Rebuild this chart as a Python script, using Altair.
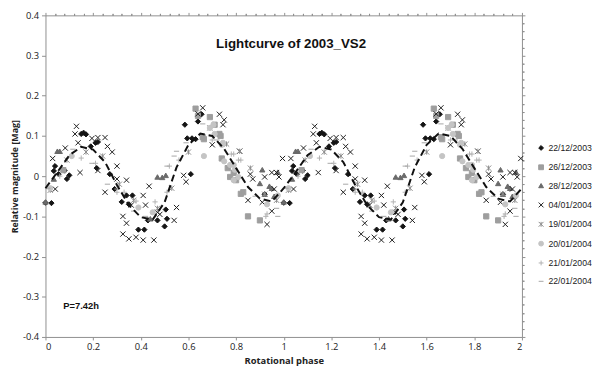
import altair as alt
import pandas as pd

# ---------------- data (phase 0-1, plotted twice as in the original) ----------------
series_names = ["22/12/2003", "26/12/2003", "28/12/2003", "04/01/2004",
                "19/01/2004", "20/01/2004", "21/01/2004", "22/01/2004"]

s1_phase = [0.00, 0.025, 0.035, 0.04, 0.055, 0.08, 0.09, 0.10, 0.15, 0.16, 0.17, 0.19, 0.21, 0.22, 0.215,
            0.27, 0.29, 0.32, 0.34, 0.35, 0.365, 0.39, 0.415, 0.43, 0.47, 0.50, 0.505, 0.51,
            0.585, 0.595, 0.61, 0.615, 0.63, 0.64, 0.655, 0.92]
s1_mag = [-0.066, -0.067, 0.013, 0.025, 0.005, 0.014, -0.007, 0.002, 0.105, 0.108, 0.104, 0.074, 0.083, 0.085, 0.02,
          0.005, -0.032, -0.064, -0.048, -0.070, -0.048, -0.133, -0.133, -0.110, -0.110, -0.125, -0.083, -0.106,
          0.128, 0.094, 0.005, 0.094, 0.092, 0.136, 0.154, -0.045]

s2_phase = [0.075, 0.63, 0.64, 0.66, 0.665, 0.69, 0.71, 0.73, 0.735, 0.74, 0.765, 0.775, 0.79, 0.80,
            0.82, 0.83, 0.85, 0.90]
s2_mag = [0.015, 0.168, 0.150, 0.097, 0.092, 0.147, 0.128, 0.105, 0.100, 0.044, 0.020, -0.002, 0.008, -0.010,
          -0.044, -0.040, -0.100, -0.110]

s3_phase = [0.0, 0.035, 0.05, 0.06, 0.44, 0.47, 0.49, 0.505, 0.90, 0.91, 0.92, 0.94, 0.95, 0.96, 0.975]
s3_mag = [-0.064, -0.007, 0.062, 0.062, -0.106, -0.002, -0.003, 0.002, -0.018, 0.016, -0.045, -0.025, -0.030,
          -0.050, 0.010]

s4_phase = [0.03, 0.041, 0.083, 0.124, 0.13, 0.137, 0.145, 0.195, 0.22, 0.25, 0.22, 0.26, 0.28, 0.30, 0.30,
            0.34, 0.25, 0.36, 0.325, 0.34, 0.325, 0.35, 0.38, 0.41, 0.455, 0.41, 0.435, 0.42, 0.47, 0.48,
            0.55, 0.54, 0.58, 0.59, 0.64, 0.66, 0.73, 0.75, 0.745, 0.70, 0.815, 0.86, 0.87, 0.85, 0.92,
            0.95, 0.97, 0.98, 0.995, 0.96, 0.93, 0.95, 0.91]
s4_mag = [0.044, -0.032, 0.070, 0.105, 0.124, 0.083, 0.009, 0.094, 0.096, 0.096, 0.014, 0.074, 0.060, 0.025, -0.007,
          -0.010, -0.040, -0.072, -0.100, -0.117, -0.144, -0.156, -0.152, -0.159, -0.159, -0.048, -0.025, -0.072,
          -0.090, -0.095, -0.078, -0.110, 0.002, -0.014, 0.155, 0.170, 0.154, 0.140, 0.128, 0.078, 0.062, 0.005,
          -0.007, -0.060, -0.002, 0.009, 0.009, -0.002, 0.044, -0.032, -0.120, -0.087, -0.065]

s5_phase = [0.02, 0.09, 0.17, 0.24, 0.31, 0.37, 0.47, 0.53, 0.60, 0.69, 0.76, 0.815, 0.86, 0.92, 0.97]
s5_mag = [-0.035, 0.040, 0.060, 0.050, -0.020, -0.060, -0.080, -0.030, 0.060, 0.120, 0.080, 0.062, 0.020,
          -0.045, -0.060]

s6_phase = [0.02, 0.11, 0.39, 0.45, 0.665, 0.69, 0.705, 0.71, 0.74, 0.745, 0.75, 0.775, 0.79, 0.795, 0.81,
            0.79, 0.93, 0.975]
s6_mag = [-0.030, 0.050, -0.078, -0.090, 0.050, 0.120, 0.128, 0.105, 0.078, 0.083, 0.037, 0.028, 0.028, 0.016,
          -0.002, -0.010, -0.070, -0.048]

s7_phase = [0.06, 0.15, 0.21, 0.30, 0.33, 0.38, 0.46, 0.51, 0.52, 0.56, 0.70, 0.78, 0.79, 0.81, 0.82, 0.925, 0.93]
s7_mag = [0.000, 0.045, 0.032, -0.040, -0.040, -0.062, -0.064, -0.040, 0.025, 0.040, 0.090, 0.055, 0.055, 0.040,
          0.040, -0.100, -0.094]

s8_phase = [0.01, 0.115, 0.195, 0.26, 0.30, 0.37, 0.42, 0.51, 0.54, 0.55, 0.59, 0.66, 0.72, 0.88, 0.97, 0.975]
s8_mag = [-0.030, 0.067, 0.032, -0.020, -0.032, -0.087, -0.100, 0.025, 0.050, 0.062, 0.083, 0.130, 0.090, -0.050,
          -0.080, -0.100]

curve_phase = [0.00, 0.05, 0.10, 0.15, 0.20, 0.25, 0.30, 0.35, 0.40, 0.45, 0.50, 0.55, 0.60, 0.65, 0.70,
               0.75, 0.80, 0.85, 0.90, 0.95, 1.00]
curve_mag = [-0.030, 0.010, 0.052, 0.073, 0.066, 0.035, -0.022, -0.072, -0.102, -0.108, -0.065, 0.022, 0.078,
             0.106, 0.100, 0.068, 0.020, -0.027, -0.056, -0.063, -0.030]

x_major = [0, 0.2, 0.4, 0.6, 0.8, 1, 1.2, 1.4, 1.6, 1.8, 2]
y_major = [-0.4, -0.3, -0.2, -0.1, 0, 0.1, 0.2, 0.3, 0.4]
x_minor = [round(i * 0.04, 2) for i in range(51) if i % 5]
y_minor = [round(-0.4 + i * 0.02, 2) for i in range(41) if i % 5]

title_text = "Lightcurve of 2003_VS2"
period_text = "P=7.42h"

# ---------------- tables ----------------
phases = [s1_phase, s2_phase, s3_phase, s4_phase, s5_phase, s6_phase, s7_phase, s8_phase]
mags = [s1_mag, s2_mag, s3_mag, s4_mag, s5_mag, s6_mag, s7_mag, s8_mag]
rows = []
for name, ph, mg in zip(series_names, phases, mags):
    for p, m in zip(ph, mg):
        rows.append({"series": name, "phase": p, "mag": m})
        rows.append({"series": name, "phase": p + 1, "mag": m})
pts = pd.DataFrame(rows)

curve = pd.DataFrame({
    "phase": curve_phase + [p + 1 for p in curve_phase[1:]],
    "mag": curve_mag + curve_mag[1:],
})

FONT = "Open Sans, sans-serif"
NFONT = "Liberation Sans, Arial, sans-serif"
AX = "#8f8f8f"

xs = alt.Scale(domain=[0, 2], nice=False, zero=False)
ys = alt.Scale(domain=[-0.4, 0.4], nice=False, zero=False)

shape_range = ["diamond", "square", "triangle-up", "M-1,-1L1,1M-1,1L1,-1",
               "M-1,-1L1,1M-1,1L1,-1M0,-1L0,1", "circle", "M-1,0L1,0M0,-1L0,1", "M-1,0L1,0"]
stroke_range = ["#141414", "#9e9e9e", "#6a6a6a", "#1e1e1e", "#8a8a8a", "#c4c4c4", "#b2b2b2", "#a6a6a6"]
fill_range = ["#141414", "#9e9e9e", "#6a6a6a", "transparent", "transparent", "#c4c4c4",
              "transparent", "transparent"]

legend = alt.Legend(orient="right", offset=11, title="\u00a0", titleFontSize=2, titlePadding=128,
                    labelFont=NFONT, labelFontSize=8.8, labelColor="#222", symbolSize=24,
                    symbolStrokeWidth=1, rowPadding=8.6, labelOffset=3, padding=0)

points = alt.Chart(pts).mark_point(filled=False, strokeWidth=1, opacity=1, size=28).encode(
    x=alt.X("phase:Q", scale=xs, axis=alt.Axis(
        values=x_major, labelExpr="datum.value + ''", tickSize=3, tickColor=AX, domainColor=AX,
        labelFont=FONT, labelFontSize=9.5, labelColor="#222", labelPadding=2, grid=False,
        title="Rotational phase", titleFont=FONT, titleFontSize=9.5, titleFontWeight="bold",
        titleColor="#222", titlePadding=4)),
    y=alt.Y("mag:Q", scale=ys, axis=alt.Axis(
        values=y_major, labelExpr="datum.value + ''", tickSize=4, tickColor=AX, domainColor=AX,
        labelFont=FONT, labelFontSize=9.5, labelColor="#222", labelPadding=3, grid=False,
        title="Relative magnitude [Mag]", titleFont=FONT, titleFontSize=9, titleFontWeight="bold",
        titleColor="#222", titlePadding=3)),
    shape=alt.Shape("series:N", scale=alt.Scale(domain=series_names, range=shape_range), legend=legend),
    stroke=alt.Stroke("series:N", scale=alt.Scale(domain=series_names, range=stroke_range), legend=legend),
    fill=alt.Fill("series:N", scale=alt.Scale(domain=series_names, range=fill_range), legend=legend),
)

line = alt.Chart(curve).mark_line(color="#111", strokeWidth=2, strokeDash=[7, 4]).encode(
    x=alt.X("phase:Q", scale=xs, axis=alt.Axis(values=x_minor, labels=False, domain=False, tickSize=2,
                                               tickColor=AX, title=None, grid=False)),
    y=alt.Y("mag:Q", scale=ys, axis=alt.Axis(values=y_minor, labels=False, domain=False, tickSize=2,
                                             tickColor=AX, title=None, grid=False)),
)

frame_major = alt.Chart(curve).mark_point(opacity=0).encode(
    x=alt.X("phase:Q", scale=xs, axis=alt.Axis(orient="top", values=x_major, labels=False, tickSize=3,
                                               tickColor=AX, domainColor=AX, title=None, grid=False)),
    y=alt.Y("mag:Q", scale=ys, axis=alt.Axis(orient="right", values=y_major, labels=False, tickSize=3,
                                             tickColor=AX, domainColor=AX, title=None, grid=False)),
)

frame_minor = alt.Chart(curve).mark_point(opacity=0).encode(
    x=alt.X("phase:Q", scale=xs, axis=alt.Axis(orient="top", values=x_minor, labels=False, domain=False,
                                               tickSize=2, tickColor=AX, title=None, grid=False)),
    y=alt.Y("mag:Q", scale=ys, axis=alt.Axis(orient="right", values=y_minor, labels=False, domain=False,
                                             tickSize=2, tickColor=AX, title=None, grid=False)),
)

title_mark = alt.Chart(pd.DataFrame({"t": [title_text]})).mark_text(
    font=NFONT, fontSize=13.5, fontWeight="bold", color="#111", align="center", baseline="middle"
).encode(text="t:N", x=alt.value(249), y=alt.value(29))

period_mark = alt.Chart(pd.DataFrame({"t": [period_text]})).mark_text(
    font=NFONT, fontSize=9.5, fontWeight="bold", color="#111", align="left", baseline="middle"
).encode(text="t:N", x=alt.value(18), y=alt.value(295))

chart = alt.layer(points, line, frame_major, frame_minor, title_mark, period_mark).resolve_axis(
    x="independent", y="independent"
).properties(
    width=483, height=326, autosize="none",
    padding={"left": 38, "top": 5, "right": 71, "bottom": 29},
    background="white",
).configure_view(stroke=None)

chart.save("out.html", embed_options={"renderer": "svg", "actions": False})
